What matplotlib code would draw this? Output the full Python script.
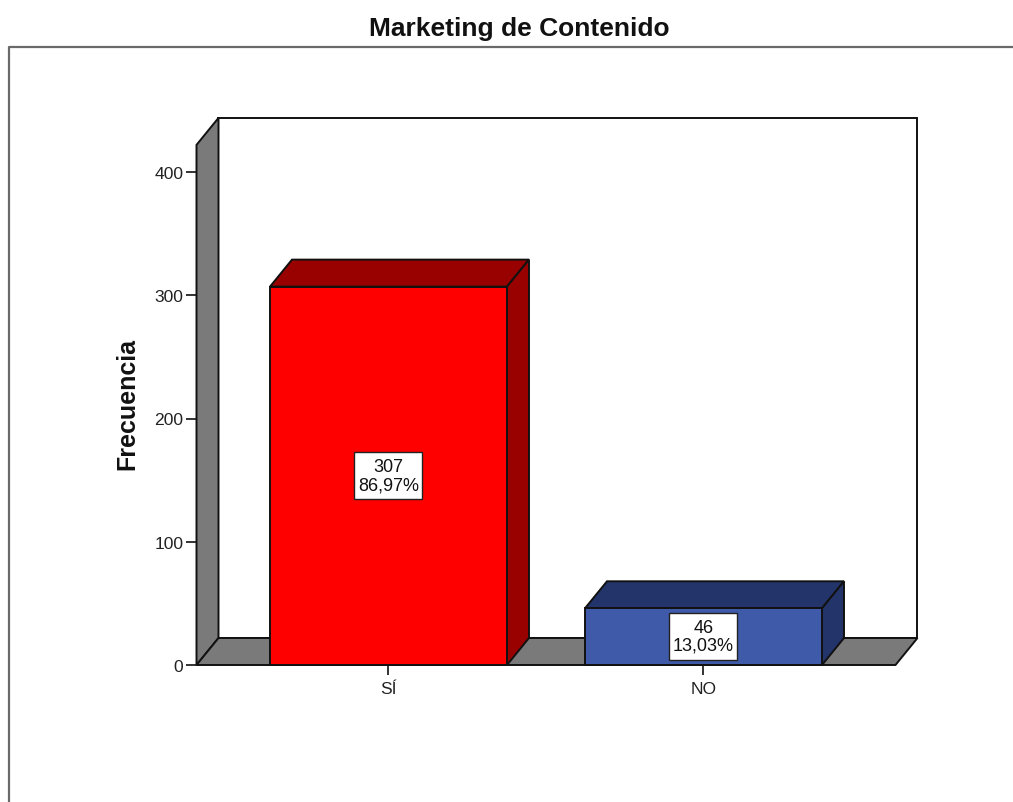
#!/usr/bin/env python3
"""Marketing de Contenido: 3D-look bar chart drawn with flat polygons."""

import matplotlib
matplotlib.use("Agg")
import matplotlib.pyplot as plt
from matplotlib.lines import Line2D
from matplotlib.patches import Polygon, Rectangle

categories = ["SÍ", "NO"]
counts = [307, 46]
percent_labels = ["86,97%", "13,03%"]
y_ticks = [0, 100, 200, 300, 400]

FRONT_COLORS = ["#ff0000", "#3e5aa8"]
SHADE_COLORS = ["#990000", "#23346b"]
WALL_COLOR = "#7a7a7a"
EDGE = "#111111"

W, H = 1013, 803
DX = 22 / 315   # depth offset, x data units
DY = 27 / 1.2325  # depth offset, y data units
BAR_W = 237 / 315
BOX_W = 68 / 315  # value label box
BOX_H = 47 / 1.2325
X_MIN, X_MAX = -0.6095, 1.6095
Y_TOP = 422


def face(ax, pts, color, z):
    ax.add_patch(Polygon(pts, closed=True, facecolor=color, edgecolor=EDGE,
                         linewidth=1.4, joinstyle="miter", clip_on=False, zorder=z))


def main():
    plt.rcParams["font.family"] = ["Liberation Sans", "DejaVu Sans"]
    fig = plt.figure(figsize=(W / 100, H / 100), dpi=100)

    # outer frame, runs off the right and bottom of the image
    fig.add_artist(Line2D([9 / W, 9 / W, 1], [0, 1 - 47.5 / H, 1 - 47.5 / H],
                          color="#6a6a6a", linewidth=1.6))
    fig.text(519 / W, 1 - 29 / H, "Marketing de Contenido", ha="center", va="center",
             fontsize=19, fontweight="bold", color="#111111")

    ax = fig.add_axes([196.5 / W, 1 - 666 / H, (918 - 196) / W, (665 - 118) / H])
    ax.set_xlim(X_MIN, X_MIN + 722 / 315)
    ax.set_ylim(0, 547 / 1.2325)
    for spine in ax.spines.values():
        spine.set_visible(False)
    ax.patch.set_visible(False)

    # back wall, side wall, floor
    face(ax, [(X_MIN + DX, DY), (X_MAX + DX, DY), (X_MAX + DX, Y_TOP + DY), (X_MIN + DX, Y_TOP + DY)],
         "white", 1)
    face(ax, [(X_MIN, 0), (X_MIN + DX, DY), (X_MIN + DX, Y_TOP + DY), (X_MIN, Y_TOP)], WALL_COLOR, 2)
    face(ax, [(X_MIN, 0), (X_MAX, 0), (X_MAX + DX, DY), (X_MIN + DX, DY)], WALL_COLOR, 2)

    # bars
    for i, v in enumerate(counts):
        x0, x1 = i - BAR_W / 2, i + BAR_W / 2
        face(ax, [(x0, v), (x1, v), (x1 + DX, v + DY), (x0 + DX, v + DY)], SHADE_COLORS[i], 3)
        face(ax, [(x1, 0), (x1 + DX, DY), (x1 + DX, v + DY), (x1, v)], SHADE_COLORS[i], 3)
        face(ax, [(x0, 0), (x1, 0), (x1, v), (x0, v)], FRONT_COLORS[i], 4)
        ax.add_patch(Rectangle((i - BOX_W / 2, v / 2 - BOX_H / 2), BOX_W, BOX_H, facecolor="white",
                               edgecolor="#222222", linewidth=1.0, zorder=5))
        ax.text(i, v / 2, f"{v}\n{percent_labels[i]}", ha="center", va="center", fontsize=13,
                linespacing=1.05, color="#111111", zorder=6)

    ax.set_xticks(range(len(categories)))
    ax.set_xticklabels(categories)
    ax.set_yticks(y_ticks)
    ax.tick_params(axis="y", length=8, width=1.2, pad=1.5, labelsize=12.6, color=EDGE, labelcolor="#222222")
    ax.tick_params(axis="x", length=7.5, width=1.2, pad=4, labelsize=12.6, color=EDGE, labelcolor="#222222")

    ax.set_ylabel("Frecuencia", fontsize=18, fontweight="bold", color="#111111")
    ax.yaxis.set_label_coords((139 - 196) / 722, (667 - 405) / 547)

    fig.savefig("out.png", dpi=100)
    plt.close(fig)


if __name__ == "__main__":
    main()
